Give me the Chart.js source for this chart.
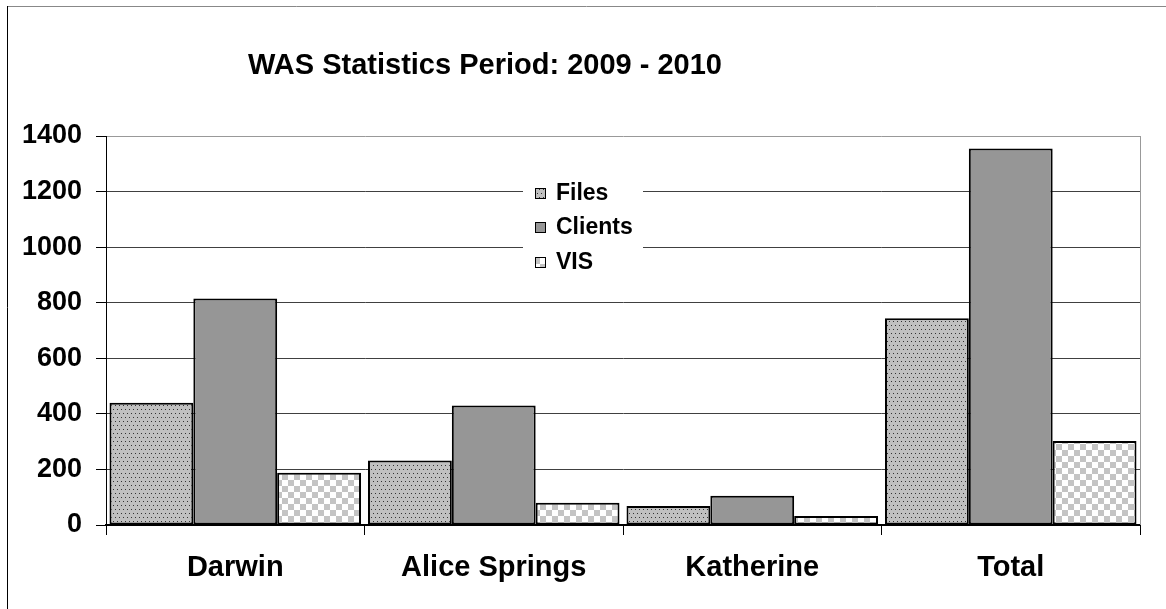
<!DOCTYPE html>
<html>
<head>
<meta charset="utf-8">
<script src="https://cdn.jsdelivr.net/npm/chart.js@4/dist/chart.umd.min.js"></script>
<style>
  body { margin:0; background:#fff; }
  #wrap { width:1166px; height:609px; }
</style>
</head>
<body>
<div id="wrap"><canvas id="grafico" width="1166" height="609"></canvas></div>
<script>
const titulo = "WAS Statistics Period: 2009 - 2010";
const xlabels = ["Darwin", "Alice Springs", "Katherine", "Total"];
const seriesNames = ["Files", "Clients", "VIS"];
const files = [440, 232, 68, 744];
const clients = [815, 430, 105, 1355];
const vis = [188, 80, 32, 302];
const yticks = [0, 200, 400, 600, 800, 1000, 1200, 1400];

const FONT = "'Liberation Sans', Arial, sans-serif";

// patrones de relleno tipo Excel
function patron(tipo) {
  let c = document.createElement("canvas");
  let g = c.getContext("2d");
  if (tipo == "dots") {
    c.width = 8; c.height = 8;
    g.fillStyle = "#c0c0c0";
    g.fillRect(0, 0, 8, 8);
    g.fillStyle = "#333";
    g.fillRect(1, 1, 1, 1); g.fillRect(5, 1, 1, 1);
    g.fillRect(3, 5, 1, 1); g.fillRect(7, 5, 1, 1);
  } else if (tipo == "check") {
    c.width = 12; c.height = 12;
    g.fillStyle = "#fff";
    g.fillRect(0, 0, 12, 12);
    g.fillStyle = "#c4c4c4";
    g.fillRect(0, 0, 6, 6);
    g.fillRect(6, 6, 6, 6);
  } else {
    return "#969696";
  }
  return g.createPattern(c, "repeat");
}

const fills = [patron("dots"), patron("solid"), patron("check")];

const marco = {
  id: "marco",
  beforeDraw(chart) {
    let ctx = chart.ctx;
    ctx.save();
    ctx.fillStyle = "#fff";
    ctx.fillRect(0, 0, chart.width, chart.height);
    ctx.strokeStyle = "#888";
    ctx.lineWidth = 1;
    ctx.beginPath(); ctx.moveTo(7, 6.5); ctx.lineTo(chart.width, 6.5); ctx.stroke();
    ctx.strokeStyle = "#000";
    ctx.beginPath(); ctx.moveTo(7.5, 6); ctx.lineTo(7.5, chart.height); ctx.stroke();
    ctx.fillStyle = "#000";
    ctx.font = "bold 29px " + FONT;
    ctx.textAlign = "center";
    ctx.textBaseline = "alphabetic";
    ctx.fillText(titulo, 485, 74);
    ctx.restore();
  },
  afterDraw(chart) {
    let ctx = chart.ctx;
    let a = chart.chartArea;
    ctx.save();
    // borde derecho del area
    ctx.strokeStyle = "#999";
    ctx.lineWidth = 1;
    ctx.beginPath(); ctx.moveTo(a.right + 0.5, a.top); ctx.lineTo(a.right + 0.5, a.bottom); ctx.stroke();
    // leyenda dentro del grafico
    ctx.fillStyle = "#fff";
    ctx.fillRect(523, 176, 120, 102);
    ctx.font = "bold 23px " + FONT;
    ctx.textBaseline = "middle";
    ctx.textAlign = "left";
    let rows = [193, 227, 262];
    chart.data.datasets.forEach((ds, i) => {
      ctx.fillStyle = ds.backgroundColor;
      ctx.fillRect(535, rows[i] - 5, 11, 11);
      ctx.strokeStyle = "#000";
      ctx.strokeRect(535.5, rows[i] - 4.5, 10, 10);
      ctx.fillStyle = "#000";
      ctx.fillText(ds.label, 556, rows[i] + 1);
    });
    ctx.restore();
  }
};

let canvas = document.getElementById("grafico").getContext("2d");
var chart = new Chart(canvas, {
  type: "bar",
  data: {
    labels: xlabels,
    datasets: [
      { label: seriesNames[0], data: files, backgroundColor: fills[0] },
      { label: seriesNames[1], data: clients, backgroundColor: fills[1] },
      { label: seriesNames[2], data: vis, backgroundColor: fills[2] }
    ]
  },
  options: {
    responsive: false,
    animation: false,
    layout: { padding: { top: 136, right: 26, bottom: 0, left: 0 } },
    datasets: {
      bar: {
        categoryPercentage: 0.973,
        barPercentage: 1,
        borderColor: "#000",
        borderWidth: 2,
        borderSkipped: false
      }
    },
    plugins: {
      legend: { display: false },
      title: { display: false },
      tooltip: { enabled: false }
    },
    scales: {
      x: {
        afterFit: (s) => { s.height = 84; },
        grid: { offset: true, drawOnChartArea: false, drawTicks: true, tickLength: 10, color: "#000" },
        border: { color: "#000", width: 2 },
        ticks: { color: "#000", padding: 16, font: { family: FONT, size: 29, weight: "bold" } }
      },
      y: {
        min: 0,
        max: 1400,
        afterFit: (s) => { s.width = 106; },
        afterBuildTicks: (s) => { s.ticks = yticks.map(v => ({ value: v })); },
        grid: {
          color: (c) => c.tick && c.tick.value == 1400 ? "#999" : "#404040",
          tickColor: "#000",
          tickLength: 10,
          lineWidth: 1
        },
        border: { color: "#000", width: 1 },
        ticks: {
          color: "#000",
          padding: 14,
          font: { family: FONT, size: 27, weight: "bold" },
          callback: (v) => String(v)
        }
      }
    }
  },
  plugins: [marco]
});
</script>
</body>
</html>
